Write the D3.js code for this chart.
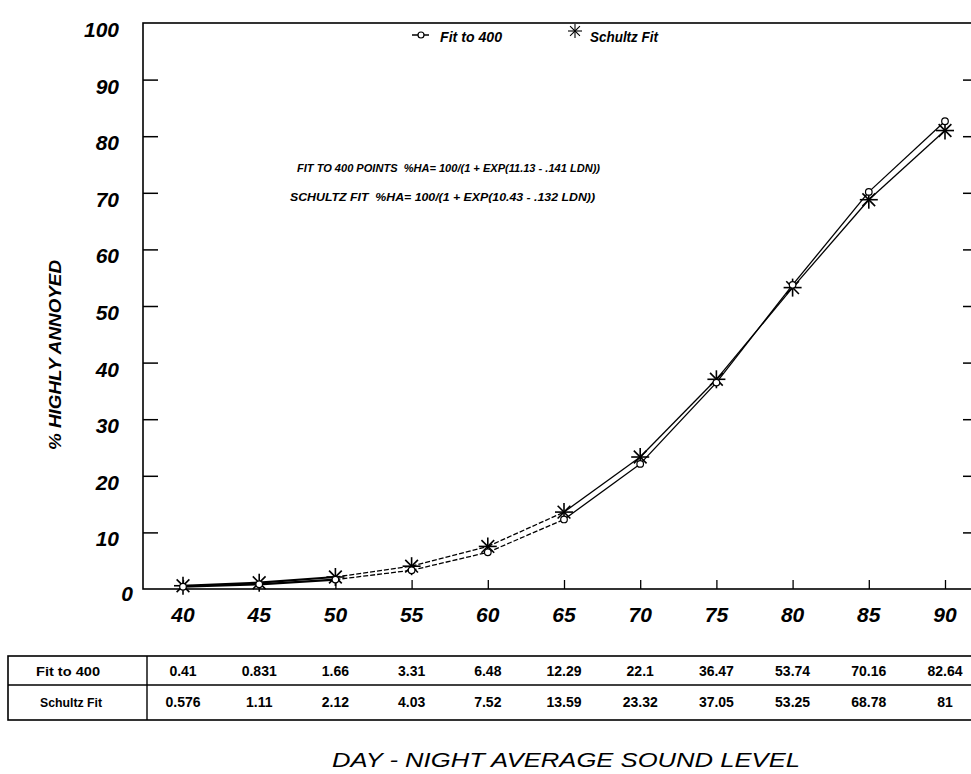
<!DOCTYPE html>
<html>
<head>
<meta charset="utf-8">
<script src="https://cdn.jsdelivr.net/npm/d3@7"></script>
<style>
  html, body { margin: 0; padding: 0; background: #fff; }
  svg { display: block; }
  text { white-space: pre; }
</style>
</head>
<body>
<svg id="chart" width="971" height="774"></svg>
<script>
// ---- data ----
const levels = [40, 45, 50, 55, 60, 65, 70, 75, 80, 85, 90];
const fit400 = [0.41, 0.831, 1.66, 3.31, 6.48, 12.29, 22.1, 36.47, 53.74, 70.16, 82.64];
const schultz = [0.576, 1.11, 2.12, 4.03, 7.52, 13.59, 23.32, 37.05, 53.25, 68.78, 81];
const fit400Labels = ["0.41", "0.831", "1.66", "3.31", "6.48", "12.29", "22.1", "36.47", "53.74", "70.16", "82.64"];
const schultzLabels = ["0.576", "1.11", "2.12", "4.03", "7.52", "13.59", "23.32", "37.05", "53.25", "68.78", "81"];
const yTicks = [0, 10, 20, 30, 40, 50, 60, 70, 80, 90, 100];
const seriesNames = ["Fit to 400", "Schultz Fit"];
const equations = [
  "FIT TO 400 POINTS  %HA= 100/(1 + EXP(11.13 - .141 LDN))",
  "SCHULTZ FIT  %HA= 100/(1 + EXP(10.43 - .132 LDN))"
];
const xTitle = "DAY - NIGHT AVERAGE SOUND LEVEL";
const yTitle = "% HIGHLY ANNOYED";

// ---- layout ----
const svg = d3.select("#chart");
const plot = { left: 143, right: 977, top: 23, bottom: 589 };
const x = d3.scaleLinear().domain([37.375, 92.1]).range([plot.left, plot.right]);
const y = d3.scaleLinear().domain([0, 100]).range([plot.bottom, plot.top]);
const FONT = "'Liberation Sans', Arial, Helvetica, sans-serif";
const NARROW = "'Liberation Sans Narrow', 'Liberation Sans', Arial, sans-serif";

// frame
svg.append("rect")
  .attr("x", plot.left).attr("y", plot.top)
  .attr("width", plot.right - plot.left).attr("height", plot.bottom - plot.top)
  .attr("fill", "none").attr("stroke", "#000").attr("stroke-width", 1.6);

// left axis (ticks inward)
const leftAxis = d3.axisRight(y).tickValues(yTicks.filter(v => v > 0 && v < 100)).tickSize(15).tickFormat("");
const gL = svg.append("g").attr("transform", `translate(${plot.left},0)`).call(leftAxis);
gL.select(".domain").remove();
gL.selectAll("line").attr("stroke", "#000").attr("stroke-width", 1.5);

// right axis ticks inward
const rightAxis = d3.axisLeft(y).tickValues(yTicks.filter(v => v > 0 && v < 100)).tickSize(14).tickFormat("");
const gR = svg.append("g").attr("transform", `translate(${plot.right},0)`).call(rightAxis);
gR.select(".domain").remove();
gR.selectAll("line").attr("stroke", "#000").attr("stroke-width", 1.5);

// y tick labels
svg.append("g").selectAll("text").data(yTicks).join("text")
  .attr("x", d => d === 0 ? 133 : 119)
  .attr("y", d => y(d) + (d === 0 ? 12 : 14))
  .attr("text-anchor", "end")
  .attr("font-family", FONT).attr("font-weight", "bold").attr("font-style", "italic")
  .attr("font-size", 21)
  .text(d => d);

// bottom axis ticks inward
const bottomAxis = d3.axisTop(x).tickValues(levels).tickSize(9).tickFormat("");
const gB = svg.append("g").attr("transform", `translate(0,${plot.bottom})`).call(bottomAxis);
gB.select(".domain").remove();
gB.selectAll("line").attr("stroke", "#000").attr("stroke-width", 1.3);

// x tick labels
svg.append("g").selectAll("text").data(levels).join("text")
  .attr("x", d => x(d))
  .attr("y", 622)
  .attr("text-anchor", "middle")
  .attr("font-family", FONT).attr("font-weight", "bold").attr("font-style", "italic")
  .attr("font-size", 21)
  .text(d => d);

// y title
svg.append("text")
  .attr("transform", `translate(61,355) rotate(-90)`)
  .attr("text-anchor", "middle")
  .attr("font-family", FONT).attr("font-weight", "bold").attr("font-style", "italic")
  .attr("font-size", 17)
  .attr("textLength", 190).attr("lengthAdjust", "spacingAndGlyphs")
  .text(yTitle);

// x title
svg.append("text")
  .attr("x", 566).attr("y", 767)
  .attr("text-anchor", "middle")
  .attr("font-family", FONT).attr("font-style", "italic")
  .attr("font-size", 21)
  .attr("textLength", 468).attr("lengthAdjust", "spacingAndGlyphs")
  .text(xTitle);

// equations
const eqPos = [{ x: 297, y: 172, w: 303 }, { x: 290, y: 201, w: 305 }];
svg.append("g").selectAll("text").data(equations).join("text")
  .attr("x", (d, i) => eqPos[i].x).attr("y", (d, i) => eqPos[i].y)
  .attr("font-family", NARROW).attr("font-weight", "bold").attr("font-style", "italic")
  .attr("font-size", 11)
  .attr("textLength", (d, i) => eqPos[i].w).attr("lengthAdjust", "spacingAndGlyphs")
  .text(d => d);

// ---- series lines ----
function drawSeries(values) {
  const pts = levels.map((l, i) => [x(l), y(values[i])]);
  for (let i = 0; i < pts.length - 1; i++) {
    const dashed = levels[i] >= 50 && levels[i + 1] <= 65;
    svg.append("line")
      .attr("x1", pts[i][0]).attr("y1", pts[i][1])
      .attr("x2", pts[i + 1][0]).attr("y2", pts[i + 1][1])
      .attr("stroke", "#000").attr("stroke-width", levels[i] < 50 ? 2.2 : 1.3)
      .attr("stroke-dasharray", dashed ? "5,2" : null);
  }
}
drawSeries(fit400);
drawSeries(schultz);

// markers
function star(g, cx, cy, r, sw) {
  const angles = [0, 45, 90, 135];
  angles.forEach(a => {
    const rad = a * Math.PI / 180;
    g.append("line")
      .attr("x1", cx - r * Math.cos(rad)).attr("y1", cy - r * Math.sin(rad))
      .attr("x2", cx + r * Math.cos(rad)).attr("y2", cy + r * Math.sin(rad))
      .attr("stroke", "#000").attr("stroke-width", sw);
  });
}
const gStars = svg.append("g");
levels.forEach((l, i) => star(gStars, x(l), y(schultz[i]), 9, 1.6));
svg.append("g").selectAll("circle").data(levels).join("circle")
  .attr("cx", d => x(d)).attr("cy", (d, i) => y(fit400[i]))
  .attr("r", 3.3)
  .attr("fill", "#fff").attr("stroke", "#000").attr("stroke-width", 1.2);

// ---- legend ----
const lg = svg.append("g");
lg.append("line").attr("x1", 412).attr("x2", 429).attr("y1", 35).attr("y2", 35)
  .attr("stroke", "#000").attr("stroke-width", 1.5);
lg.append("circle").attr("cx", 421).attr("cy", 35).attr("r", 3)
  .attr("fill", "#fff").attr("stroke", "#000").attr("stroke-width", 1.2);
lg.append("text").attr("x", 440).attr("y", 42)
  .attr("font-family", NARROW).attr("font-weight", "bold").attr("font-style", "italic")
  .attr("font-size", 14).attr("textLength", 62).attr("lengthAdjust", "spacingAndGlyphs")
  .text(seriesNames[0]);
star(lg, 575, 31, 7, 1.1);
lg.append("text").attr("x", 590).attr("y", 42)
  .attr("font-family", NARROW).attr("font-weight", "bold").attr("font-style", "italic")
  .attr("font-size", 14).attr("textLength", 68).attr("lengthAdjust", "spacingAndGlyphs")
  .text(seriesNames[1]);

// ---- data table ----
const tbl = { left: 8, div: 147, right: 985, top: 656, mid: 685, bottom: 720 };
const tg = svg.append("g");
tg.append("rect").attr("x", tbl.left).attr("y", tbl.top)
  .attr("width", tbl.right - tbl.left).attr("height", tbl.bottom - tbl.top)
  .attr("fill", "none").attr("stroke", "#000").attr("stroke-width", 1.6);
tg.append("line").attr("x1", tbl.left).attr("x2", tbl.right).attr("y1", tbl.mid).attr("y2", tbl.mid)
  .attr("stroke", "#000").attr("stroke-width", 1.4);
tg.append("line").attr("x1", tbl.div).attr("x2", tbl.div).attr("y1", tbl.top).attr("y2", tbl.bottom)
  .attr("stroke", "#000").attr("stroke-width", 1.4);
const rowBase = [676, 707];
const rowLabelW = [64, 62];
tg.selectAll("text.rowlab").data(seriesNames).join("text")
  .attr("class", "rowlab")
  .attr("x", (d, i) => i === 0 ? 36 : 40).attr("y", (d, i) => rowBase[i])
  .attr("font-family", NARROW).attr("font-weight", "bold")
  .attr("font-size", 13).attr("textLength", (d, i) => rowLabelW[i]).attr("lengthAdjust", "spacingAndGlyphs")
  .text(d => d);
[fit400Labels, schultzLabels].forEach((labels, r) => {
  tg.append("g").selectAll("text").data(labels).join("text")
    .attr("x", (d, i) => x(levels[i]))
    .attr("y", rowBase[r])
    .attr("text-anchor", "middle")
    .attr("font-family", NARROW).attr("font-weight", "bold")
    .attr("font-size", 14)
    .text(d => d);
});
</script>
</body>
</html>
